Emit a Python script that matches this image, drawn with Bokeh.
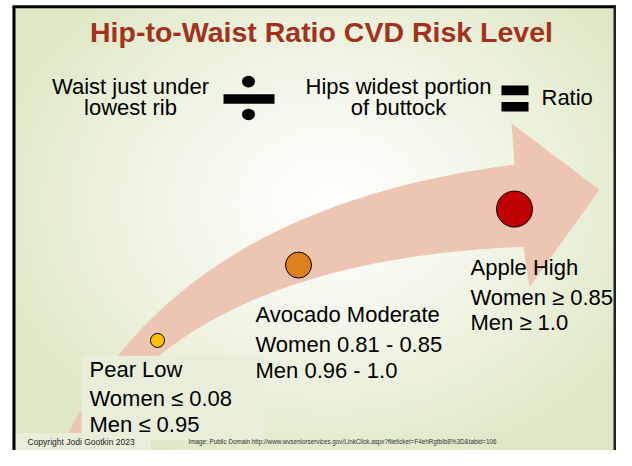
import numpy as np
from bokeh.plotting import figure
from bokeh.models import Range1d, ColumnDataSource
from bokeh.core.properties import value
from bokeh.embed import file_html
from bokeh.resources import INLINE

# ---------------- data ----------------
title = "Hip-to-Waist Ratio CVD Risk Level"
numerator_lines = ["Waist just under", "lowest rib"]
denominator_lines = ["Hips widest portion", "of buttock"]
result_label = "Ratio"
risk_levels = ["Pear Low", "Avocado Moderate", "Apple High"]
women_thresholds = ["Women \u2264 0.08", "Women 0.81 - 0.85", "Women \u2265 0.85"]
men_thresholds = ["Men \u2264 0.95", "Men 0.96 - 1.0", "Men \u2265 1.0"]
copyright_text = "Copyright Jodi Gootkin 2023"
credit_text = ("Image: Public Domain http://www.wvseniorservices.gov/LinkClick.aspx?"
               "fileticket=F4ehRgtbIb8%3D&tabid=106")

# ---------------- styles / layout ----------------
marker_colors = ["#FFC000", "#E0801C", "#C00000"]
marker_radius = [7, 13, 18]
marker_x = [157, 298, 514]
marker_y = [352, 274, 216]
label_x = [89, 255, 470]
label_base = [390, 334, 285]
FONT = value("Liberation Sans")
BODY = 22

PW, PH = 616, 450
XR0, XR1 = 0, 616
YR0, YR1 = 0, 466
p = figure(width=PW, height=PH, x_range=Range1d(XR0, XR1), y_range=Range1d(YR1, YR0),
           output_backend="svg", toolbar_location=None, min_border=0,
           x_axis_type=None, y_axis_type=None)
p.grid.visible = False
p.outline_line_color = None
p.background_fill_color = "white"
p.border_fill_color = "white"


def mid(baseline, size):
    # convert a text baseline position into a 'middle' anchor position
    return baseline - 0.38 * size


# background radial gradient
gx0, gy0 = 12, 6
GW, GH = XR1 - gx0, YR1 - gy0
X, Y = np.meshgrid(np.arange(GW) + gx0 + 0.5, np.arange(GH) + gy0 + 0.5)
t = np.sqrt(((X - 330) / 360.0) ** 2 + ((Y - 210) / 300.0) ** 2)
t = np.clip(t, 0, 1) ** 1.3
center = np.array([254, 254, 251])
edge = np.array([221, 231, 196])
img = np.empty((GH, GW), dtype=np.uint32)
view = img.view(dtype=np.uint8).reshape((GH, GW, 4))
for k in range(3):
    view[:, :, k] = (center[k] * (1 - t) + edge[k] * t).astype(np.uint8)
view[:, :, 3] = 255
p.image_rgba(image=[img], x=gx0, y=gy0, dw=GW, dh=GH)


# curved arrow
def qbez(p0, p1, p2, n=80):
    tt = np.linspace(0, 1, n)
    xs = (1 - tt) ** 2 * p0[0] + 2 * tt * (1 - tt) * p1[0] + tt ** 2 * p2[0]
    ys = (1 - tt) ** 2 * p0[1] + 2 * tt * (1 - tt) * p1[1] + tt ** 2 * p2[1]
    return list(xs), list(ys)


ux, uy = qbez((58, 470), (166, 216), (514, 170))
lx, ly = qbez((523, 255), (180, 270), (76, 470))
hx = [511, 599, 529]
hy = [127, 196, 297]
p.patch(ux + hx + lx, uy + hy + ly, fill_color="#EDC6B3", line_color=None)

# light boxes
p.quad(left=[81, 13], right=[263, 150], top=[368, 448], bottom=[455, 470],
       fill_color="#E8EEDA", line_color=None)

# border
p.line([13.5, 13.5], [470, 6.5], line_color="black", line_width=3)
p.line([12, 616], [6.5, 6.5], line_color="black", line_width=3)
p.line([614.5, 614.5], [5, 470], line_color="#222222", line_width=3)

# title
p.text(x=[321], y=[mid(43, 28.5)], text=[title], text_font=FONT, text_font_size="28.5px",
       text_font_style="bold", text_color="#A3321C", text_align="center",
       text_baseline="middle")

# formula
fsrc = ColumnDataSource(dict(
    x=[130, 130, 398, 398],
    y=[mid(v, BODY) for v in [97, 119, 97, 119]],
    t=numerator_lines + denominator_lines))
p.text(x="x", y="y", text="t", source=fsrc, text_font=FONT, text_font_size=f"{BODY}px",
       text_color="black", text_align="center", text_baseline="middle")
p.text(x=[541], y=[mid(109, BODY)], text=[result_label], text_font=FONT,
       text_font_size=f"{BODY}px", text_color="black", text_align="left",
       text_baseline="middle")
# divide sign
p.ellipse(x=[248, 248], y=[84, 118], width=13, height=12, fill_color="black", line_color=None)
p.quad(left=[223], right=[274], top=[97], bottom=[107], fill_color="black", line_color=None)
# equals sign
p.quad(left=[501, 501], right=[528, 528], top=[88, 105], bottom=[98, 115],
       fill_color="black", line_color=None)

# markers
msrc = ColumnDataSource(dict(x=marker_x, y=marker_y, r=marker_radius, c=marker_colors))
p.circle(x="x", y="y", radius="r", source=msrc, fill_color="c", line_color="black", line_width=1)

# risk labels
bases = label_base + [v + 31 for v in label_base] + [v + 57 for v in label_base]
lsrc = ColumnDataSource(dict(
    x=label_x * 3,
    y=[mid(v, BODY) for v in bases],
    t=risk_levels + women_thresholds + men_thresholds))
p.text(x="x", y="y", text="t", source=lsrc, text_font=FONT, text_font_size=f"{BODY}px",
       text_color="black", text_align="left", text_baseline="middle")

# footers
p.text(x=[27], y=[mid(460, 8.5)], text=[copyright_text], text_font=FONT,
       text_font_size="8.5px", text_color="#222222", text_baseline="middle")
p.text(x=[188], y=[mid(459.5, 6.3)], text=[credit_text], text_font=FONT,
       text_font_size="6.3px", text_color="#333333", text_baseline="middle")

open("out.html", "w").write(file_html(p, INLINE))
